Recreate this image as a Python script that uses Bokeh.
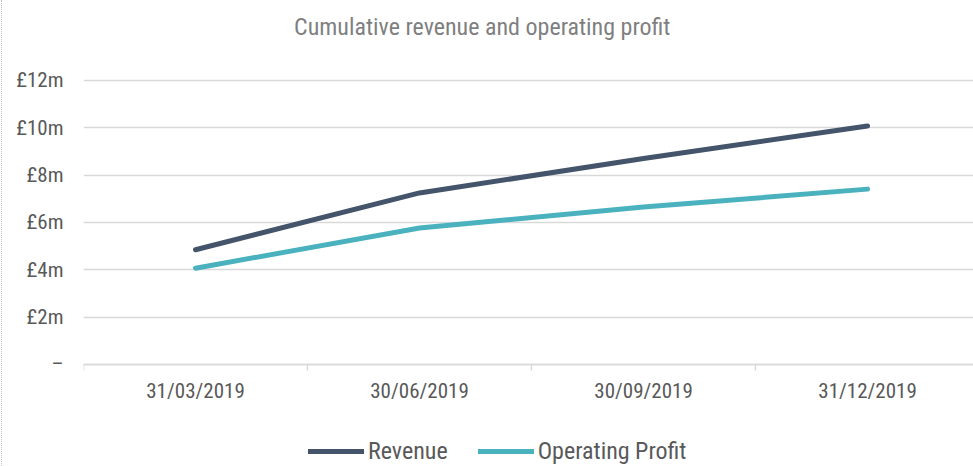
from bokeh.plotting import figure
from bokeh.models import (Range1d, FixedTicker, ColumnDataSource, Legend, LegendItem, Div, Label)
from bokeh.layouts import row
from bokeh.embed import file_html
from bokeh.resources import INLINE

title_text = "Cumulative revenue and operating profit"
categories = ["31/03/2019", "30/06/2019", "30/09/2019", "31/12/2019"]
revenue = [4.85, 7.25, 8.7, 10.08]
operating_profit = [4.07, 5.77, 6.65, 7.41]
y_ticks = [0, 2, 4, 6, 8, 10, 12]
y_tick_labels = ["\u2013", "\u00a32m", "\u00a34m", "\u00a36m", "\u00a38m", "\u00a310m", "\u00a312m"]

FONT = "'Liberation Sans Narrow', 'Roboto Condensed', Roboto, sans-serif"
TEXT = "#595959"
GRID = "#D9D9D9"

x_pos = [i + 0.5 for i in range(len(categories))]
src = ColumnDataSource(dict(x=x_pos, rev=revenue, op=operating_profit))

# frame covers the full canvas height; the axis is pinned at zero
p = figure(width=971, height=466, output_backend="svg", toolbar_location=None,
           x_range=Range1d(0, 3.973), y_range=Range1d(-4.31, 15.38),
           min_border_left=81, min_border_right=0, min_border_top=0, min_border_bottom=0)
p.outline_line_color = None
p.background_fill_color = "white"
p.border_fill_color = "white"

# y axis
p.yaxis.ticker = FixedTicker(ticks=y_ticks)
p.yaxis.major_label_overrides = {t: l for t, l in zip(y_ticks, y_tick_labels)}
p.yaxis.axis_line_color = None
p.yaxis.major_tick_line_color = None
p.yaxis.major_tick_out = 0
p.yaxis.major_tick_in = 0
p.yaxis.minor_tick_line_color = None
p.yaxis.minor_tick_out = 0
p.yaxis.major_label_standoff = 20
p.yaxis.major_label_text_font = FONT
p.yaxis.major_label_text_font_size = "21px"
p.yaxis.major_label_text_color = TEXT

# x axis, drawn at zero inside the frame
p.xaxis.fixed_location = 0
p.xaxis.ticker = FixedTicker(ticks=x_pos, minor_ticks=list(range(len(categories) + 1)))
p.xaxis.major_label_overrides = {x: c for x, c in zip(x_pos, categories)}
p.xaxis.axis_line_color = GRID
p.xaxis.axis_line_width = 1.5
p.xaxis.major_tick_line_color = None
p.xaxis.major_tick_out = 0
p.xaxis.major_tick_in = 0
p.xaxis.minor_tick_line_color = GRID
p.xaxis.minor_tick_line_width = 1.5
p.xaxis.minor_tick_out = 6
p.xaxis.minor_tick_in = 0
p.xaxis.major_label_standoff = 9
p.xaxis.major_label_text_font = FONT
p.xaxis.major_label_text_font_size = "21px"
p.xaxis.major_label_text_color = TEXT

p.xgrid.grid_line_color = None
p.ygrid.ticker = FixedTicker(ticks=y_ticks)
p.ygrid.grid_line_color = GRID
p.ygrid.grid_line_width = 1.5

r1 = p.line("x", "rev", source=src, line_color="#44546A", line_width=5, line_cap="round", line_join="round")
r2 = p.line("x", "op", source=src, line_color="#4AB2BF", line_width=5, line_cap="round", line_join="round")

title = Label(x=1.78, y=14.28, text=title_text, text_align="center", text_baseline="middle",
              text_font=FONT, text_font_size="24px", text_color="#7F7F7F")
p.add_layout(title)

legend = Legend(items=[LegendItem(label="Revenue", renderers=[r1]),
                       LegendItem(label="Operating Profit", renderers=[r2])],
                orientation="horizontal", location=(225, 1),
                glyph_width=56, glyph_height=22, label_standoff=4, spacing=30,
                padding=0, margin=0, border_line_color=None, background_fill_alpha=0,
                label_text_font=FONT, label_text_font_size="24px", label_text_color=TEXT)
p.add_layout(legend, "center")

border = Div(width=1, height=466, margin=(0, 0, 0, 1),
             styles={"border-left": "1px dotted #BFBFBF", "box-sizing": "border-box"})
layout = row(border, p, spacing=0)

open("out.html", "w").write(file_html(layout, INLINE))
